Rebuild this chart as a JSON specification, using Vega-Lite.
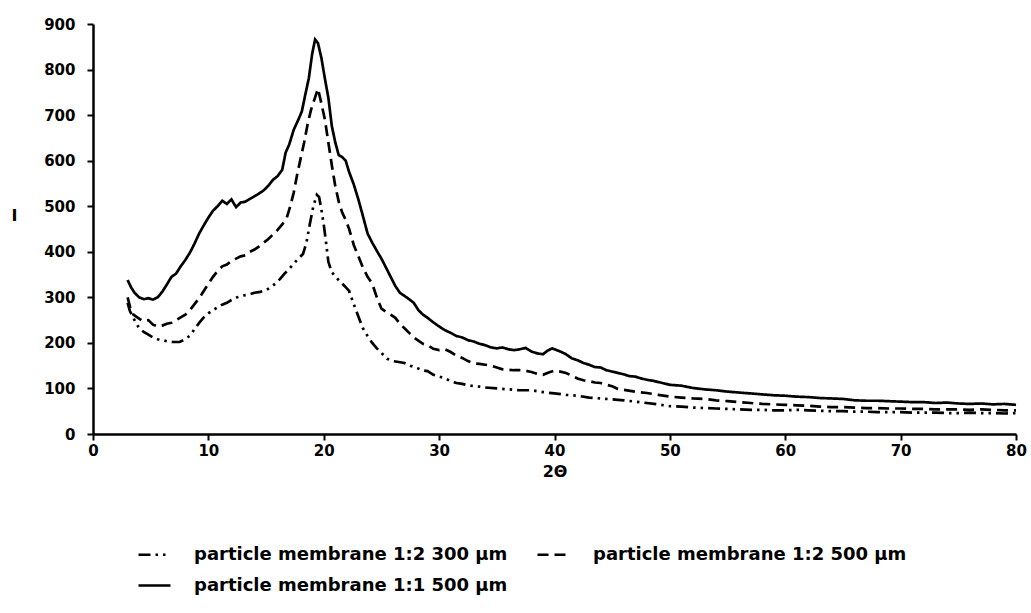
{
  "$schema": "https://vega.github.io/schema/vega-lite/v6.json",
  "autosize": {"type": "none"},
  "padding": {"left": 93, "top": 24, "right": 15, "bottom": 179},
  "width": 923,
  "height": 410,
  "background": "white",
  "config": {
    "view": {"stroke": null},
    "font": "DejaVu Sans",
    "axis": {
      "grid": false,
      "domainColor": "black",
      "domainWidth": 2.5,
      "tickColor": "black",
      "tickWidth": 2,
      "tickSize": 6,
      "labelFont": "DejaVu Sans",
      "labelFontSize": 15,
      "labelFontWeight": "bold",
      "labelColor": "black",
      "titleFont": "DejaVu Sans",
      "titleFontSize": 16,
      "titleFontWeight": "bold",
      "titleColor": "black"
    },
    "legend": {
      "labelFont": "DejaVu Sans",
      "labelFontSize": 18,
      "labelFontWeight": "bold",
      "labelColor": "black"
    }
  },
  "datasets": {
    "xrd": [
      {"series": "particle membrane 1:1 500 µm", "x": 3.0, "y": 338},
      {"series": "particle membrane 1:1 500 µm", "x": 3.3, "y": 322},
      {"series": "particle membrane 1:1 500 µm", "x": 3.6, "y": 310},
      {"series": "particle membrane 1:1 500 µm", "x": 4.0, "y": 300},
      {"series": "particle membrane 1:1 500 µm", "x": 4.4, "y": 296},
      {"series": "particle membrane 1:1 500 µm", "x": 4.8, "y": 298},
      {"series": "particle membrane 1:1 500 µm", "x": 5.2, "y": 295},
      {"series": "particle membrane 1:1 500 µm", "x": 5.6, "y": 300},
      {"series": "particle membrane 1:1 500 µm", "x": 6.0, "y": 312},
      {"series": "particle membrane 1:1 500 µm", "x": 6.4, "y": 328},
      {"series": "particle membrane 1:1 500 µm", "x": 6.8, "y": 345},
      {"series": "particle membrane 1:1 500 µm", "x": 7.2, "y": 352},
      {"series": "particle membrane 1:1 500 µm", "x": 7.6, "y": 368},
      {"series": "particle membrane 1:1 500 µm", "x": 8.0, "y": 382},
      {"series": "particle membrane 1:1 500 µm", "x": 8.4, "y": 398},
      {"series": "particle membrane 1:1 500 µm", "x": 8.8, "y": 418},
      {"series": "particle membrane 1:1 500 µm", "x": 9.2, "y": 440},
      {"series": "particle membrane 1:1 500 µm", "x": 9.6, "y": 458},
      {"series": "particle membrane 1:1 500 µm", "x": 10.0, "y": 475},
      {"series": "particle membrane 1:1 500 µm", "x": 10.4, "y": 490},
      {"series": "particle membrane 1:1 500 µm", "x": 10.8, "y": 500},
      {"series": "particle membrane 1:1 500 µm", "x": 11.2, "y": 512},
      {"series": "particle membrane 1:1 500 µm", "x": 11.6, "y": 505},
      {"series": "particle membrane 1:1 500 µm", "x": 12.0, "y": 515},
      {"series": "particle membrane 1:1 500 µm", "x": 12.4, "y": 498},
      {"series": "particle membrane 1:1 500 µm", "x": 12.8, "y": 508},
      {"series": "particle membrane 1:1 500 µm", "x": 13.2, "y": 510},
      {"series": "particle membrane 1:1 500 µm", "x": 13.6, "y": 516},
      {"series": "particle membrane 1:1 500 µm", "x": 14.0, "y": 522},
      {"series": "particle membrane 1:1 500 µm", "x": 14.4, "y": 528},
      {"series": "particle membrane 1:1 500 µm", "x": 14.8, "y": 535},
      {"series": "particle membrane 1:1 500 µm", "x": 15.2, "y": 545},
      {"series": "particle membrane 1:1 500 µm", "x": 15.6, "y": 558},
      {"series": "particle membrane 1:1 500 µm", "x": 16.0, "y": 566},
      {"series": "particle membrane 1:1 500 µm", "x": 16.4, "y": 580},
      {"series": "particle membrane 1:1 500 µm", "x": 16.7, "y": 618},
      {"series": "particle membrane 1:1 500 µm", "x": 17.0, "y": 635},
      {"series": "particle membrane 1:1 500 µm", "x": 17.4, "y": 668},
      {"series": "particle membrane 1:1 500 µm", "x": 17.8, "y": 690},
      {"series": "particle membrane 1:1 500 µm", "x": 18.1, "y": 708},
      {"series": "particle membrane 1:1 500 µm", "x": 18.4, "y": 745},
      {"series": "particle membrane 1:1 500 µm", "x": 18.7, "y": 780},
      {"series": "particle membrane 1:1 500 µm", "x": 19.0, "y": 835},
      {"series": "particle membrane 1:1 500 µm", "x": 19.25, "y": 866},
      {"series": "particle membrane 1:1 500 µm", "x": 19.5, "y": 858},
      {"series": "particle membrane 1:1 500 µm", "x": 19.8, "y": 825},
      {"series": "particle membrane 1:1 500 µm", "x": 20.1, "y": 780},
      {"series": "particle membrane 1:1 500 µm", "x": 20.4, "y": 738},
      {"series": "particle membrane 1:1 500 µm", "x": 20.7, "y": 676},
      {"series": "particle membrane 1:1 500 µm", "x": 21.0, "y": 640},
      {"series": "particle membrane 1:1 500 µm", "x": 21.3, "y": 612},
      {"series": "particle membrane 1:1 500 µm", "x": 21.6, "y": 608},
      {"series": "particle membrane 1:1 500 µm", "x": 21.9, "y": 600},
      {"series": "particle membrane 1:1 500 µm", "x": 22.2, "y": 575},
      {"series": "particle membrane 1:1 500 µm", "x": 22.6, "y": 548},
      {"series": "particle membrane 1:1 500 µm", "x": 23.0, "y": 515},
      {"series": "particle membrane 1:1 500 µm", "x": 23.4, "y": 478},
      {"series": "particle membrane 1:1 500 µm", "x": 23.8, "y": 440},
      {"series": "particle membrane 1:1 500 µm", "x": 24.2, "y": 420},
      {"series": "particle membrane 1:1 500 µm", "x": 24.6, "y": 402},
      {"series": "particle membrane 1:1 500 µm", "x": 25.0, "y": 385},
      {"series": "particle membrane 1:1 500 µm", "x": 25.4, "y": 365},
      {"series": "particle membrane 1:1 500 µm", "x": 25.8, "y": 345},
      {"series": "particle membrane 1:1 500 µm", "x": 26.2, "y": 325},
      {"series": "particle membrane 1:1 500 µm", "x": 26.6, "y": 310},
      {"series": "particle membrane 1:1 500 µm", "x": 27.0, "y": 303},
      {"series": "particle membrane 1:1 500 µm", "x": 27.4, "y": 296},
      {"series": "particle membrane 1:1 500 µm", "x": 27.8, "y": 288},
      {"series": "particle membrane 1:1 500 µm", "x": 28.2, "y": 272},
      {"series": "particle membrane 1:1 500 µm", "x": 28.6, "y": 262},
      {"series": "particle membrane 1:1 500 µm", "x": 29.0, "y": 255},
      {"series": "particle membrane 1:1 500 µm", "x": 29.5, "y": 245},
      {"series": "particle membrane 1:1 500 µm", "x": 30.0, "y": 236},
      {"series": "particle membrane 1:1 500 µm", "x": 30.5, "y": 228},
      {"series": "particle membrane 1:1 500 µm", "x": 31.0, "y": 222},
      {"series": "particle membrane 1:1 500 µm", "x": 31.5, "y": 215},
      {"series": "particle membrane 1:1 500 µm", "x": 32.0, "y": 212},
      {"series": "particle membrane 1:1 500 µm", "x": 32.5, "y": 206},
      {"series": "particle membrane 1:1 500 µm", "x": 33.0, "y": 203},
      {"series": "particle membrane 1:1 500 µm", "x": 33.5, "y": 198},
      {"series": "particle membrane 1:1 500 µm", "x": 34.0, "y": 195},
      {"series": "particle membrane 1:1 500 µm", "x": 34.5, "y": 190},
      {"series": "particle membrane 1:1 500 µm", "x": 35.0, "y": 188},
      {"series": "particle membrane 1:1 500 µm", "x": 35.5, "y": 190},
      {"series": "particle membrane 1:1 500 µm", "x": 36.0, "y": 186},
      {"series": "particle membrane 1:1 500 µm", "x": 36.5, "y": 184},
      {"series": "particle membrane 1:1 500 µm", "x": 37.0, "y": 186},
      {"series": "particle membrane 1:1 500 µm", "x": 37.5, "y": 189},
      {"series": "particle membrane 1:1 500 µm", "x": 38.0, "y": 181},
      {"series": "particle membrane 1:1 500 µm", "x": 38.5, "y": 177},
      {"series": "particle membrane 1:1 500 µm", "x": 39.0, "y": 175},
      {"series": "particle membrane 1:1 500 µm", "x": 39.4, "y": 183},
      {"series": "particle membrane 1:1 500 µm", "x": 39.8, "y": 188},
      {"series": "particle membrane 1:1 500 µm", "x": 40.2, "y": 184},
      {"series": "particle membrane 1:1 500 µm", "x": 40.6, "y": 180},
      {"series": "particle membrane 1:1 500 µm", "x": 41.0, "y": 175},
      {"series": "particle membrane 1:1 500 µm", "x": 41.5, "y": 166},
      {"series": "particle membrane 1:1 500 µm", "x": 42.0, "y": 162},
      {"series": "particle membrane 1:1 500 µm", "x": 42.5, "y": 156},
      {"series": "particle membrane 1:1 500 µm", "x": 43.0, "y": 152},
      {"series": "particle membrane 1:1 500 µm", "x": 43.5, "y": 147},
      {"series": "particle membrane 1:1 500 µm", "x": 44.0, "y": 146},
      {"series": "particle membrane 1:1 500 µm", "x": 44.5, "y": 140},
      {"series": "particle membrane 1:1 500 µm", "x": 45.0, "y": 137},
      {"series": "particle membrane 1:1 500 µm", "x": 45.5, "y": 134},
      {"series": "particle membrane 1:1 500 µm", "x": 46.0, "y": 131},
      {"series": "particle membrane 1:1 500 µm", "x": 46.5, "y": 127},
      {"series": "particle membrane 1:1 500 µm", "x": 47.0, "y": 126},
      {"series": "particle membrane 1:1 500 µm", "x": 47.5, "y": 122},
      {"series": "particle membrane 1:1 500 µm", "x": 48.0, "y": 119},
      {"series": "particle membrane 1:1 500 µm", "x": 48.5, "y": 117},
      {"series": "particle membrane 1:1 500 µm", "x": 49.0, "y": 114},
      {"series": "particle membrane 1:1 500 µm", "x": 49.5, "y": 111},
      {"series": "particle membrane 1:1 500 µm", "x": 50.0, "y": 108},
      {"series": "particle membrane 1:1 500 µm", "x": 51.0, "y": 106},
      {"series": "particle membrane 1:1 500 µm", "x": 52.0, "y": 101},
      {"series": "particle membrane 1:1 500 µm", "x": 53.0, "y": 98},
      {"series": "particle membrane 1:1 500 µm", "x": 54.0, "y": 96},
      {"series": "particle membrane 1:1 500 µm", "x": 55.0, "y": 93},
      {"series": "particle membrane 1:1 500 µm", "x": 56.0, "y": 91},
      {"series": "particle membrane 1:1 500 µm", "x": 57.0, "y": 89},
      {"series": "particle membrane 1:1 500 µm", "x": 58.0, "y": 87},
      {"series": "particle membrane 1:1 500 µm", "x": 59.0, "y": 85},
      {"series": "particle membrane 1:1 500 µm", "x": 60.0, "y": 84},
      {"series": "particle membrane 1:1 500 µm", "x": 61.0, "y": 82},
      {"series": "particle membrane 1:1 500 µm", "x": 62.0, "y": 81},
      {"series": "particle membrane 1:1 500 µm", "x": 63.0, "y": 79},
      {"series": "particle membrane 1:1 500 µm", "x": 64.0, "y": 78},
      {"series": "particle membrane 1:1 500 µm", "x": 65.0, "y": 77},
      {"series": "particle membrane 1:1 500 µm", "x": 66.0, "y": 74},
      {"series": "particle membrane 1:1 500 µm", "x": 67.0, "y": 73},
      {"series": "particle membrane 1:1 500 µm", "x": 68.0, "y": 73},
      {"series": "particle membrane 1:1 500 µm", "x": 69.0, "y": 72},
      {"series": "particle membrane 1:1 500 µm", "x": 70.0, "y": 71},
      {"series": "particle membrane 1:1 500 µm", "x": 71.0, "y": 70},
      {"series": "particle membrane 1:1 500 µm", "x": 72.0, "y": 70},
      {"series": "particle membrane 1:1 500 µm", "x": 73.0, "y": 68},
      {"series": "particle membrane 1:1 500 µm", "x": 74.0, "y": 69},
      {"series": "particle membrane 1:1 500 µm", "x": 75.0, "y": 67},
      {"series": "particle membrane 1:1 500 µm", "x": 76.0, "y": 66},
      {"series": "particle membrane 1:1 500 µm", "x": 77.0, "y": 67},
      {"series": "particle membrane 1:1 500 µm", "x": 78.0, "y": 65},
      {"series": "particle membrane 1:1 500 µm", "x": 79.0, "y": 66},
      {"series": "particle membrane 1:1 500 µm", "x": 80.0, "y": 64},

      {"series": "particle membrane 1:2 500 µm", "x": 3.0, "y": 300},
      {"series": "particle membrane 1:2 500 µm", "x": 3.2, "y": 280},
      {"series": "particle membrane 1:2 500 µm", "x": 3.5, "y": 262},
      {"series": "particle membrane 1:2 500 µm", "x": 3.9, "y": 255},
      {"series": "particle membrane 1:2 500 µm", "x": 4.3, "y": 248},
      {"series": "particle membrane 1:2 500 µm", "x": 4.8, "y": 250},
      {"series": "particle membrane 1:2 500 µm", "x": 5.2, "y": 240},
      {"series": "particle membrane 1:2 500 µm", "x": 5.6, "y": 236},
      {"series": "particle membrane 1:2 500 µm", "x": 6.0, "y": 238},
      {"series": "particle membrane 1:2 500 µm", "x": 6.4, "y": 242},
      {"series": "particle membrane 1:2 500 µm", "x": 6.8, "y": 244},
      {"series": "particle membrane 1:2 500 µm", "x": 7.2, "y": 250},
      {"series": "particle membrane 1:2 500 µm", "x": 7.6, "y": 256},
      {"series": "particle membrane 1:2 500 µm", "x": 8.0, "y": 262},
      {"series": "particle membrane 1:2 500 µm", "x": 8.4, "y": 272},
      {"series": "particle membrane 1:2 500 µm", "x": 8.8, "y": 285},
      {"series": "particle membrane 1:2 500 µm", "x": 9.2, "y": 298},
      {"series": "particle membrane 1:2 500 µm", "x": 9.6, "y": 314},
      {"series": "particle membrane 1:2 500 µm", "x": 10.0, "y": 330},
      {"series": "particle membrane 1:2 500 µm", "x": 10.4, "y": 345},
      {"series": "particle membrane 1:2 500 µm", "x": 10.8, "y": 358},
      {"series": "particle membrane 1:2 500 µm", "x": 11.2, "y": 368},
      {"series": "particle membrane 1:2 500 µm", "x": 11.6, "y": 372},
      {"series": "particle membrane 1:2 500 µm", "x": 12.0, "y": 380},
      {"series": "particle membrane 1:2 500 µm", "x": 12.4, "y": 385},
      {"series": "particle membrane 1:2 500 µm", "x": 12.8, "y": 390},
      {"series": "particle membrane 1:2 500 µm", "x": 13.2, "y": 392},
      {"series": "particle membrane 1:2 500 µm", "x": 13.6, "y": 400},
      {"series": "particle membrane 1:2 500 µm", "x": 14.0, "y": 405},
      {"series": "particle membrane 1:2 500 µm", "x": 14.4, "y": 412},
      {"series": "particle membrane 1:2 500 µm", "x": 14.8, "y": 420},
      {"series": "particle membrane 1:2 500 µm", "x": 15.2, "y": 428},
      {"series": "particle membrane 1:2 500 µm", "x": 15.6, "y": 438},
      {"series": "particle membrane 1:2 500 µm", "x": 16.0, "y": 448},
      {"series": "particle membrane 1:2 500 µm", "x": 16.4, "y": 460},
      {"series": "particle membrane 1:2 500 µm", "x": 16.8, "y": 475},
      {"series": "particle membrane 1:2 500 µm", "x": 17.1, "y": 500},
      {"series": "particle membrane 1:2 500 µm", "x": 17.4, "y": 530},
      {"series": "particle membrane 1:2 500 µm", "x": 17.7, "y": 570},
      {"series": "particle membrane 1:2 500 µm", "x": 18.0, "y": 605},
      {"series": "particle membrane 1:2 500 µm", "x": 18.3, "y": 640},
      {"series": "particle membrane 1:2 500 µm", "x": 18.6, "y": 680},
      {"series": "particle membrane 1:2 500 µm", "x": 18.9, "y": 712},
      {"series": "particle membrane 1:2 500 µm", "x": 19.2, "y": 735},
      {"series": "particle membrane 1:2 500 µm", "x": 19.5, "y": 758},
      {"series": "particle membrane 1:2 500 µm", "x": 19.8, "y": 725},
      {"series": "particle membrane 1:2 500 µm", "x": 20.1, "y": 690},
      {"series": "particle membrane 1:2 500 µm", "x": 20.4, "y": 640},
      {"series": "particle membrane 1:2 500 µm", "x": 20.7, "y": 590},
      {"series": "particle membrane 1:2 500 µm", "x": 21.0, "y": 544},
      {"series": "particle membrane 1:2 500 µm", "x": 21.3, "y": 510},
      {"series": "particle membrane 1:2 500 µm", "x": 21.6, "y": 486},
      {"series": "particle membrane 1:2 500 µm", "x": 21.9, "y": 470},
      {"series": "particle membrane 1:2 500 µm", "x": 22.2, "y": 450},
      {"series": "particle membrane 1:2 500 µm", "x": 22.6, "y": 415},
      {"series": "particle membrane 1:2 500 µm", "x": 23.0, "y": 390},
      {"series": "particle membrane 1:2 500 µm", "x": 23.4, "y": 365},
      {"series": "particle membrane 1:2 500 µm", "x": 23.8, "y": 345},
      {"series": "particle membrane 1:2 500 µm", "x": 24.2, "y": 330},
      {"series": "particle membrane 1:2 500 µm", "x": 24.6, "y": 300},
      {"series": "particle membrane 1:2 500 µm", "x": 25.0, "y": 275},
      {"series": "particle membrane 1:2 500 µm", "x": 25.4, "y": 268},
      {"series": "particle membrane 1:2 500 µm", "x": 25.8, "y": 262},
      {"series": "particle membrane 1:2 500 µm", "x": 26.2, "y": 255},
      {"series": "particle membrane 1:2 500 µm", "x": 26.6, "y": 242},
      {"series": "particle membrane 1:2 500 µm", "x": 27.0, "y": 232},
      {"series": "particle membrane 1:2 500 µm", "x": 27.4, "y": 222},
      {"series": "particle membrane 1:2 500 µm", "x": 27.8, "y": 212},
      {"series": "particle membrane 1:2 500 µm", "x": 28.2, "y": 205},
      {"series": "particle membrane 1:2 500 µm", "x": 28.6, "y": 198},
      {"series": "particle membrane 1:2 500 µm", "x": 29.0, "y": 195},
      {"series": "particle membrane 1:2 500 µm", "x": 29.5, "y": 187},
      {"series": "particle membrane 1:2 500 µm", "x": 30.0, "y": 184},
      {"series": "particle membrane 1:2 500 µm", "x": 30.5, "y": 186},
      {"series": "particle membrane 1:2 500 µm", "x": 31.0, "y": 180},
      {"series": "particle membrane 1:2 500 µm", "x": 31.5, "y": 172},
      {"series": "particle membrane 1:2 500 µm", "x": 32.0, "y": 167},
      {"series": "particle membrane 1:2 500 µm", "x": 32.5, "y": 160},
      {"series": "particle membrane 1:2 500 µm", "x": 33.0, "y": 155},
      {"series": "particle membrane 1:2 500 µm", "x": 33.5, "y": 154},
      {"series": "particle membrane 1:2 500 µm", "x": 34.0, "y": 152},
      {"series": "particle membrane 1:2 500 µm", "x": 34.5, "y": 150},
      {"series": "particle membrane 1:2 500 µm", "x": 35.0, "y": 146},
      {"series": "particle membrane 1:2 500 µm", "x": 35.5, "y": 142},
      {"series": "particle membrane 1:2 500 µm", "x": 36.0, "y": 141},
      {"series": "particle membrane 1:2 500 µm", "x": 36.5, "y": 140},
      {"series": "particle membrane 1:2 500 µm", "x": 37.0, "y": 140},
      {"series": "particle membrane 1:2 500 µm", "x": 37.5, "y": 139},
      {"series": "particle membrane 1:2 500 µm", "x": 38.0, "y": 136},
      {"series": "particle membrane 1:2 500 µm", "x": 38.5, "y": 132},
      {"series": "particle membrane 1:2 500 µm", "x": 39.0, "y": 130},
      {"series": "particle membrane 1:2 500 µm", "x": 39.5, "y": 135},
      {"series": "particle membrane 1:2 500 µm", "x": 40.0, "y": 139},
      {"series": "particle membrane 1:2 500 µm", "x": 40.5, "y": 137},
      {"series": "particle membrane 1:2 500 µm", "x": 41.0, "y": 134},
      {"series": "particle membrane 1:2 500 µm", "x": 41.5, "y": 128},
      {"series": "particle membrane 1:2 500 µm", "x": 42.0, "y": 122},
      {"series": "particle membrane 1:2 500 µm", "x": 42.5, "y": 118},
      {"series": "particle membrane 1:2 500 µm", "x": 43.0, "y": 116},
      {"series": "particle membrane 1:2 500 µm", "x": 43.5, "y": 113},
      {"series": "particle membrane 1:2 500 µm", "x": 44.0, "y": 112},
      {"series": "particle membrane 1:2 500 µm", "x": 44.5, "y": 108},
      {"series": "particle membrane 1:2 500 µm", "x": 45.0, "y": 105},
      {"series": "particle membrane 1:2 500 µm", "x": 45.5, "y": 99},
      {"series": "particle membrane 1:2 500 µm", "x": 46.0, "y": 97},
      {"series": "particle membrane 1:2 500 µm", "x": 47.0, "y": 93},
      {"series": "particle membrane 1:2 500 µm", "x": 48.0, "y": 90},
      {"series": "particle membrane 1:2 500 µm", "x": 49.0, "y": 86},
      {"series": "particle membrane 1:2 500 µm", "x": 50.0, "y": 82},
      {"series": "particle membrane 1:2 500 µm", "x": 51.0, "y": 80},
      {"series": "particle membrane 1:2 500 µm", "x": 52.0, "y": 78},
      {"series": "particle membrane 1:2 500 µm", "x": 53.0, "y": 77},
      {"series": "particle membrane 1:2 500 µm", "x": 54.0, "y": 74},
      {"series": "particle membrane 1:2 500 µm", "x": 55.0, "y": 72},
      {"series": "particle membrane 1:2 500 µm", "x": 56.0, "y": 70},
      {"series": "particle membrane 1:2 500 µm", "x": 57.0, "y": 68},
      {"series": "particle membrane 1:2 500 µm", "x": 58.0, "y": 66},
      {"series": "particle membrane 1:2 500 µm", "x": 59.0, "y": 65},
      {"series": "particle membrane 1:2 500 µm", "x": 60.0, "y": 64},
      {"series": "particle membrane 1:2 500 µm", "x": 61.0, "y": 63},
      {"series": "particle membrane 1:2 500 µm", "x": 62.0, "y": 62},
      {"series": "particle membrane 1:2 500 µm", "x": 63.0, "y": 60},
      {"series": "particle membrane 1:2 500 µm", "x": 64.0, "y": 59},
      {"series": "particle membrane 1:2 500 µm", "x": 65.0, "y": 59},
      {"series": "particle membrane 1:2 500 µm", "x": 66.0, "y": 58},
      {"series": "particle membrane 1:2 500 µm", "x": 67.0, "y": 57},
      {"series": "particle membrane 1:2 500 µm", "x": 68.0, "y": 57},
      {"series": "particle membrane 1:2 500 µm", "x": 69.0, "y": 56},
      {"series": "particle membrane 1:2 500 µm", "x": 70.0, "y": 56},
      {"series": "particle membrane 1:2 500 µm", "x": 71.0, "y": 55},
      {"series": "particle membrane 1:2 500 µm", "x": 72.0, "y": 55},
      {"series": "particle membrane 1:2 500 µm", "x": 73.0, "y": 54},
      {"series": "particle membrane 1:2 500 µm", "x": 74.0, "y": 54},
      {"series": "particle membrane 1:2 500 µm", "x": 75.0, "y": 54},
      {"series": "particle membrane 1:2 500 µm", "x": 76.0, "y": 53},
      {"series": "particle membrane 1:2 500 µm", "x": 77.0, "y": 54},
      {"series": "particle membrane 1:2 500 µm", "x": 78.0, "y": 53},
      {"series": "particle membrane 1:2 500 µm", "x": 79.0, "y": 52},
      {"series": "particle membrane 1:2 500 µm", "x": 80.0, "y": 52},

      {"series": "particle membrane 1:2 300 µm", "x": 3.0, "y": 288},
      {"series": "particle membrane 1:2 300 µm", "x": 3.2, "y": 270},
      {"series": "particle membrane 1:2 300 µm", "x": 3.5, "y": 255},
      {"series": "particle membrane 1:2 300 µm", "x": 3.8, "y": 240},
      {"series": "particle membrane 1:2 300 µm", "x": 4.1, "y": 230},
      {"series": "particle membrane 1:2 300 µm", "x": 4.4, "y": 224},
      {"series": "particle membrane 1:2 300 µm", "x": 4.8, "y": 218},
      {"series": "particle membrane 1:2 300 µm", "x": 5.2, "y": 212},
      {"series": "particle membrane 1:2 300 µm", "x": 5.6, "y": 208},
      {"series": "particle membrane 1:2 300 µm", "x": 6.0, "y": 206},
      {"series": "particle membrane 1:2 300 µm", "x": 6.5, "y": 203},
      {"series": "particle membrane 1:2 300 µm", "x": 7.0, "y": 202},
      {"series": "particle membrane 1:2 300 µm", "x": 7.5, "y": 202},
      {"series": "particle membrane 1:2 300 µm", "x": 8.0, "y": 208},
      {"series": "particle membrane 1:2 300 µm", "x": 8.4, "y": 216},
      {"series": "particle membrane 1:2 300 µm", "x": 8.8, "y": 230},
      {"series": "particle membrane 1:2 300 µm", "x": 9.2, "y": 244},
      {"series": "particle membrane 1:2 300 µm", "x": 9.6, "y": 256},
      {"series": "particle membrane 1:2 300 µm", "x": 10.0, "y": 265},
      {"series": "particle membrane 1:2 300 µm", "x": 10.4, "y": 272},
      {"series": "particle membrane 1:2 300 µm", "x": 10.8, "y": 278},
      {"series": "particle membrane 1:2 300 µm", "x": 11.2, "y": 284},
      {"series": "particle membrane 1:2 300 µm", "x": 11.6, "y": 288},
      {"series": "particle membrane 1:2 300 µm", "x": 12.0, "y": 294},
      {"series": "particle membrane 1:2 300 µm", "x": 12.5, "y": 300},
      {"series": "particle membrane 1:2 300 µm", "x": 13.0, "y": 304},
      {"series": "particle membrane 1:2 300 µm", "x": 13.5, "y": 306},
      {"series": "particle membrane 1:2 300 µm", "x": 14.0, "y": 310},
      {"series": "particle membrane 1:2 300 µm", "x": 14.5, "y": 312},
      {"series": "particle membrane 1:2 300 µm", "x": 15.0, "y": 316},
      {"series": "particle membrane 1:2 300 µm", "x": 15.4, "y": 322},
      {"series": "particle membrane 1:2 300 µm", "x": 15.8, "y": 330},
      {"series": "particle membrane 1:2 300 µm", "x": 16.2, "y": 340},
      {"series": "particle membrane 1:2 300 µm", "x": 16.6, "y": 352},
      {"series": "particle membrane 1:2 300 µm", "x": 17.0, "y": 362},
      {"series": "particle membrane 1:2 300 µm", "x": 17.4, "y": 374},
      {"series": "particle membrane 1:2 300 µm", "x": 17.8, "y": 385},
      {"series": "particle membrane 1:2 300 µm", "x": 18.2, "y": 395},
      {"series": "particle membrane 1:2 300 µm", "x": 18.5, "y": 420},
      {"series": "particle membrane 1:2 300 µm", "x": 18.8, "y": 462},
      {"series": "particle membrane 1:2 300 µm", "x": 19.1, "y": 500},
      {"series": "particle membrane 1:2 300 µm", "x": 19.4, "y": 525},
      {"series": "particle membrane 1:2 300 µm", "x": 19.6, "y": 520},
      {"series": "particle membrane 1:2 300 µm", "x": 19.8, "y": 492},
      {"series": "particle membrane 1:2 300 µm", "x": 20.0, "y": 460},
      {"series": "particle membrane 1:2 300 µm", "x": 20.2, "y": 420},
      {"series": "particle membrane 1:2 300 µm", "x": 20.4, "y": 378},
      {"series": "particle membrane 1:2 300 µm", "x": 20.7, "y": 355},
      {"series": "particle membrane 1:2 300 µm", "x": 21.0, "y": 346},
      {"series": "particle membrane 1:2 300 µm", "x": 21.4, "y": 335},
      {"series": "particle membrane 1:2 300 µm", "x": 21.8, "y": 325},
      {"series": "particle membrane 1:2 300 µm", "x": 22.2, "y": 314},
      {"series": "particle membrane 1:2 300 µm", "x": 22.6, "y": 285},
      {"series": "particle membrane 1:2 300 µm", "x": 23.0, "y": 258},
      {"series": "particle membrane 1:2 300 µm", "x": 23.4, "y": 232},
      {"series": "particle membrane 1:2 300 µm", "x": 23.8, "y": 215},
      {"series": "particle membrane 1:2 300 µm", "x": 24.2, "y": 200},
      {"series": "particle membrane 1:2 300 µm", "x": 24.6, "y": 188},
      {"series": "particle membrane 1:2 300 µm", "x": 25.0, "y": 178},
      {"series": "particle membrane 1:2 300 µm", "x": 25.5, "y": 165},
      {"series": "particle membrane 1:2 300 µm", "x": 26.0, "y": 160},
      {"series": "particle membrane 1:2 300 µm", "x": 26.5, "y": 158},
      {"series": "particle membrane 1:2 300 µm", "x": 27.0, "y": 156},
      {"series": "particle membrane 1:2 300 µm", "x": 27.5, "y": 150},
      {"series": "particle membrane 1:2 300 µm", "x": 28.0, "y": 146},
      {"series": "particle membrane 1:2 300 µm", "x": 28.5, "y": 140},
      {"series": "particle membrane 1:2 300 µm", "x": 29.0, "y": 138},
      {"series": "particle membrane 1:2 300 µm", "x": 29.5, "y": 130},
      {"series": "particle membrane 1:2 300 µm", "x": 30.0, "y": 126},
      {"series": "particle membrane 1:2 300 µm", "x": 30.5, "y": 122},
      {"series": "particle membrane 1:2 300 µm", "x": 31.0, "y": 116},
      {"series": "particle membrane 1:2 300 µm", "x": 31.5, "y": 112},
      {"series": "particle membrane 1:2 300 µm", "x": 32.0, "y": 110},
      {"series": "particle membrane 1:2 300 µm", "x": 32.5, "y": 107},
      {"series": "particle membrane 1:2 300 µm", "x": 33.0, "y": 105},
      {"series": "particle membrane 1:2 300 µm", "x": 33.5, "y": 104},
      {"series": "particle membrane 1:2 300 µm", "x": 34.0, "y": 102},
      {"series": "particle membrane 1:2 300 µm", "x": 35.0, "y": 100},
      {"series": "particle membrane 1:2 300 µm", "x": 36.0, "y": 98},
      {"series": "particle membrane 1:2 300 µm", "x": 37.0, "y": 96},
      {"series": "particle membrane 1:2 300 µm", "x": 38.0, "y": 96},
      {"series": "particle membrane 1:2 300 µm", "x": 39.0, "y": 92},
      {"series": "particle membrane 1:2 300 µm", "x": 40.0, "y": 89},
      {"series": "particle membrane 1:2 300 µm", "x": 41.0, "y": 86},
      {"series": "particle membrane 1:2 300 µm", "x": 42.0, "y": 84},
      {"series": "particle membrane 1:2 300 µm", "x": 43.0, "y": 80},
      {"series": "particle membrane 1:2 300 µm", "x": 44.0, "y": 78},
      {"series": "particle membrane 1:2 300 µm", "x": 45.0, "y": 76},
      {"series": "particle membrane 1:2 300 µm", "x": 46.0, "y": 74},
      {"series": "particle membrane 1:2 300 µm", "x": 47.0, "y": 71},
      {"series": "particle membrane 1:2 300 µm", "x": 48.0, "y": 68},
      {"series": "particle membrane 1:2 300 µm", "x": 49.0, "y": 65},
      {"series": "particle membrane 1:2 300 µm", "x": 50.0, "y": 61},
      {"series": "particle membrane 1:2 300 µm", "x": 51.0, "y": 60},
      {"series": "particle membrane 1:2 300 µm", "x": 52.0, "y": 58},
      {"series": "particle membrane 1:2 300 µm", "x": 53.0, "y": 57},
      {"series": "particle membrane 1:2 300 µm", "x": 54.0, "y": 56},
      {"series": "particle membrane 1:2 300 µm", "x": 55.0, "y": 55},
      {"series": "particle membrane 1:2 300 µm", "x": 56.0, "y": 54},
      {"series": "particle membrane 1:2 300 µm", "x": 57.0, "y": 53},
      {"series": "particle membrane 1:2 300 µm", "x": 58.0, "y": 53},
      {"series": "particle membrane 1:2 300 µm", "x": 59.0, "y": 52},
      {"series": "particle membrane 1:2 300 µm", "x": 60.0, "y": 52},
      {"series": "particle membrane 1:2 300 µm", "x": 61.0, "y": 53},
      {"series": "particle membrane 1:2 300 µm", "x": 62.0, "y": 52},
      {"series": "particle membrane 1:2 300 µm", "x": 63.0, "y": 51},
      {"series": "particle membrane 1:2 300 µm", "x": 64.0, "y": 50},
      {"series": "particle membrane 1:2 300 µm", "x": 65.0, "y": 50},
      {"series": "particle membrane 1:2 300 µm", "x": 66.0, "y": 49},
      {"series": "particle membrane 1:2 300 µm", "x": 67.0, "y": 49},
      {"series": "particle membrane 1:2 300 µm", "x": 68.0, "y": 48},
      {"series": "particle membrane 1:2 300 µm", "x": 69.0, "y": 48},
      {"series": "particle membrane 1:2 300 µm", "x": 70.0, "y": 48},
      {"series": "particle membrane 1:2 300 µm", "x": 71.0, "y": 47},
      {"series": "particle membrane 1:2 300 µm", "x": 72.0, "y": 47},
      {"series": "particle membrane 1:2 300 µm", "x": 73.0, "y": 47},
      {"series": "particle membrane 1:2 300 µm", "x": 74.0, "y": 46},
      {"series": "particle membrane 1:2 300 µm", "x": 75.0, "y": 46},
      {"series": "particle membrane 1:2 300 µm", "x": 76.0, "y": 47},
      {"series": "particle membrane 1:2 300 µm", "x": 77.0, "y": 46},
      {"series": "particle membrane 1:2 300 µm", "x": 78.0, "y": 46},
      {"series": "particle membrane 1:2 300 µm", "x": 79.0, "y": 45},
      {"series": "particle membrane 1:2 300 µm", "x": 80.0, "y": 46}
    ]
  },
  "data": {"name": "xrd"},
  "mark": {"type": "line", "color": "black", "strokeWidth": 2.7, "interpolate": "linear"},
  "encoding": {
    "x": {
      "field": "x",
      "type": "quantitative",
      "scale": {"domain": [0, 80], "nice": false, "zero": false},
      "axis": {
        "title": "2Θ",
        "values": [0, 10, 20, 30, 40, 50, 60, 70, 80],
        "labelPadding": 3,
        "titlePadding": 5,
        "labelFlush": false
      }
    },
    "y": {
      "field": "y",
      "type": "quantitative",
      "scale": {"domain": [0, 900], "nice": false},
      "axis": {
        "title": "I",
        "values": [0, 100, 200, 300, 400, 500, 600, 700, 800, 900],
        "labelPadding": 12,
        "titleAngle": 0,
        "titleX": -79,
        "titleY": 191,
        "titleAlign": "center",
        "titleBaseline": "middle",
        "labelFlush": false
      }
    },
    "strokeDash": {
      "field": "series",
      "type": "nominal",
      "scale": {
        "domain": ["particle membrane 1:2 300 µm", "particle membrane 1:2 500 µm", "particle membrane 1:1 500 µm"],
        "range": [[12, 5, 2.5, 5, 2.5, 5], [11, 6], [1, 0]]
      },
      "legend": {
        "title": null,
        "orient": "none",
        "direction": "horizontal",
        "legendX": 44,
        "legendY": 513,
        "columns": 2,
        "columnPadding": 24,
        "rowPadding": 4,
        "symbolType": "stroke",
        "symbolSize": 1024,
        "symbolStrokeWidth": 2.7,
        "symbolStrokeColor": "black",
        "labelOffset": 22,
        "labelLimit": 0
      }
    },
    "order": {"field": "x", "type": "quantitative"}
  }
}
